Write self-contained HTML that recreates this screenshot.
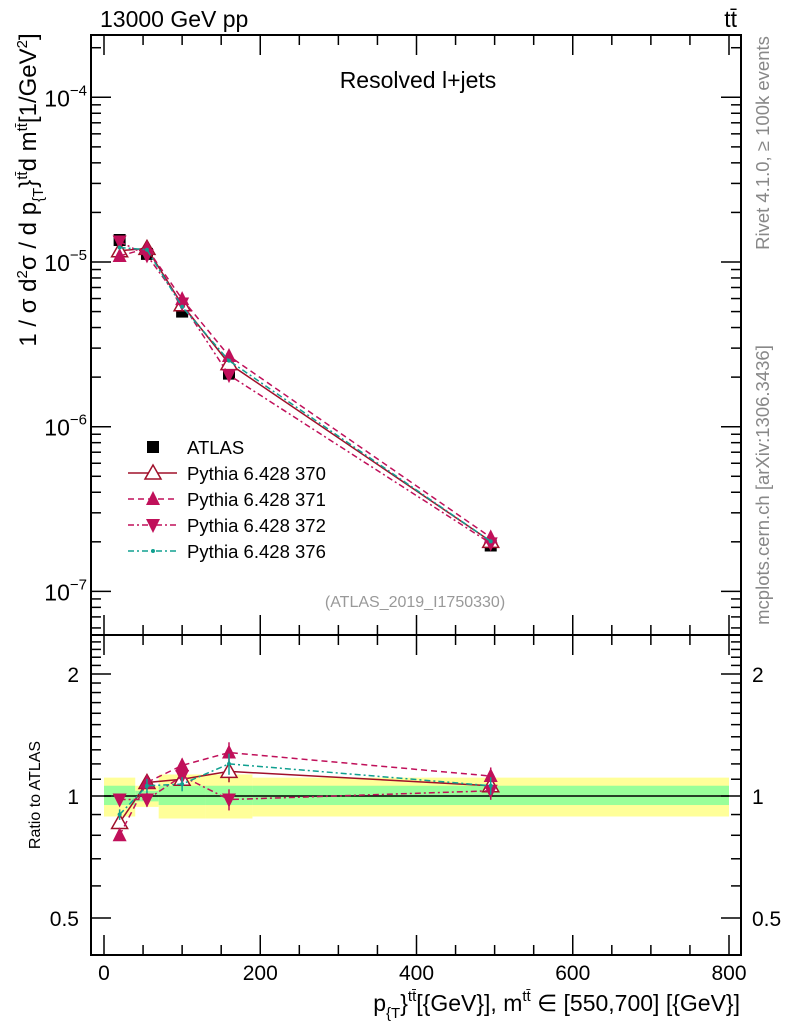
<!DOCTYPE html>
<html><head><meta charset="utf-8"><style>
html,body{margin:0;padding:0;background:#fff;}
svg{display:block;font-family:"Liberation Sans",sans-serif;}
</style></head><body>
<svg id="c" width="786" height="1024" viewBox="0 0 786 1024" xmlns="http://www.w3.org/2000/svg">
<g id="bands"></g>
<g id="axes"></g>
<g id="series"></g>
<text x="100" y="27" font-size="23">13000 GeV pp</text>
<text x="737" y="27" font-size="23" text-anchor="end">tt̄</text>
<text x="418" y="88" font-size="23" text-anchor="middle">Resolved l+jets</text>
<text x="415" y="607" font-size="16" fill="#999" text-anchor="middle">(ATLAS_2019_I1750330)</text>
<text transform="translate(769,143) rotate(-90)" font-size="18.5" fill="#888" text-anchor="middle">Rivet 4.1.0, ≥ 100k events</text>
<text transform="translate(769,485) rotate(-90)" font-size="18.5" fill="#888" text-anchor="middle">mcplots.cern.ch [arXiv:1306.3436]</text>
<text transform="translate(36,190) rotate(-90)" font-size="24" text-anchor="middle">1 / σ d<tspan font-size="15" dy="-9">2</tspan><tspan dy="9">σ / d p</tspan><tspan font-size="15" dy="7">{T</tspan><tspan dy="-7">}</tspan><tspan font-size="15" dy="-9">tt̄</tspan><tspan dy="9">d m</tspan><tspan font-size="15" dy="-9">tt̄</tspan><tspan dy="9">[1/GeV</tspan><tspan font-size="15" dy="-9">2</tspan><tspan dy="9">]</tspan></text>
<text transform="translate(40,795) rotate(-90)" font-size="16" text-anchor="middle">Ratio to ATLAS</text>
<text x="740" y="1011" font-size="23" text-anchor="end">p<tspan font-size="15" dy="7">{T</tspan><tspan dy="-7">}</tspan><tspan font-size="15" dy="-10">tt̄</tspan><tspan dy="10">[{GeV}], m</tspan><tspan font-size="15" dy="-10">tt̄</tspan><tspan dy="10"> ∈ [550,700] [{GeV}]</tspan></text>
<g id="legend"></g>
</svg>
<script>
const xs = [20, 55, 100, 160, 495];
const binLo = [0, 40, 70, 130, 190];
const binHi = [40, 70, 130, 190, 800];
const atlas = [1.36e-5, 1.12e-5, 5.0e-6, 2.1e-6, 1.9e-7];
const yellowLo = [0.89, 0.94, 0.88, 0.88, 0.89];
const yellowHi = [1.11, 1.06, 1.13, 1.13, 1.11];
const greenLo = [0.95, 0.97, 0.95, 0.95, 0.95];
const greenHi = [1.06, 1.03, 1.06, 1.06, 1.06];
const r370 = [0.86, 1.08, 1.10, 1.15, 1.06];
const r371 = [0.80, 1.08, 1.19, 1.28, 1.12];
const r372 = [0.98, 0.98, 1.12, 0.98, 1.03];
const r376 = [0.90, 1.06, 1.07, 1.20, 1.06];
const ratioErr = [0.03, 0.04, 0.04, 0.06, 0.05];
const yTicks = ["10","10","10","10"];
const yExp = [-4,-5,-6,-7];
const xTicks = [0, 200, 400, 600, 800];
const rTicks = [0.5, 1, 2];

const NS="http://www.w3.org/2000/svg";
const L=91,R=741,T=35,M=635,B=955;
const X=v=>104+v*(729-104)/800;
const Y=v=>262-(Math.log10(v)+5)*164.7;
const RY=v=>796-Math.log2(v)*122;
function mk(tag,attrs,parent){const e=document.createElementNS(NS,tag);for(const k in attrs)e.setAttribute(k,attrs[k]);parent.appendChild(e);return e;}
const axes=document.getElementById('axes'),bands=document.getElementById('bands'),ser=document.getElementById('series'),leg=document.getElementById('legend');

for(let i=0;i<binLo.length;i++){
  const y=mk('rect',{x:X(binLo[i]),y:RY(yellowHi[i]),width:X(binHi[i])-X(binLo[i]),height:RY(yellowLo[i])-RY(yellowHi[i]),fill:'#ffff99'},bands);
  
  
  const g=mk('rect',{x:X(binLo[i]),y:RY(greenHi[i]),width:X(binHi[i])-X(binLo[i]),height:RY(greenLo[i])-RY(greenHi[i]),fill:'#99ff99'},bands);
  
  
}
mk('line',{x1:X(0),x2:X(800),y1:RY(1),y2:RY(1),stroke:'#000','stroke-width':1.5},bands);

mk('rect',{x:L,y:T,width:R-L,height:M-T,fill:'none',stroke:'#000','stroke-width':2},axes);
mk('rect',{x:L,y:M,width:R-L,height:B-M,fill:'none',stroke:'#000','stroke-width':2},axes);
for(let d=-8;d<=-4;d++){for(let m=1;m<10;m++){const v=m*Math.pow(10,d);const y=Y(v);if(y<T||y>M)continue;const len=m==1?20:10;
 mk('line',{x1:L,x2:L+len,y1:y,y2:y,stroke:'#000','stroke-width':1.5},axes);mk('line',{x1:R,x2:R-len,y1:y,y2:y,stroke:'#000','stroke-width':1.5},axes);}}
yExp.forEach((e,i)=>{const t=mk('text',{x:87,y:Y(Math.pow(10,e))+9,'font-size':23,'text-anchor':'end'},axes);t.textContent=yTicks[i];const s=mk('tspan',{'font-size':15,dy:-11},t);s.textContent='−'+(-e);
 
 });
for(let v=0.4;v<=2.5;v+=0.1){const y=RY(v);if(y<M||y>B)continue;const major=[0.5,1,2].some(a=>Math.abs(a-v)<1e-6);const len=major?20:10;
 mk('line',{x1:L,x2:L+len,y1:y,y2:y,stroke:'#000','stroke-width':1.5},axes);mk('line',{x1:R,x2:R-len,y1:y,y2:y,stroke:'#000','stroke-width':1.5},axes);}
rTicks.forEach(v=>{const t1=mk('text',{x:79,y:RY(v)+8,'font-size':21,'text-anchor':'end'},axes);t1.textContent=String(v);
 
 
 const t2=mk('text',{x:752,y:RY(v)+8,'font-size':21},axes);t2.textContent=String(v);
 
 });
for(let v=0;v<=800;v+=50){const x=X(v);const len=v%200==0?20:10;
 [[T,1],[M,1],[M,-1],[B,-1]].forEach(([y0,s])=>mk('line',{x1:x,x2:x,y1:y0,y2:y0+s*len,stroke:'#000','stroke-width':1.5},axes));}
xTicks.forEach(v=>{const t=mk('text',{x:X(v),y:980,'font-size':21,'text-anchor':'middle'},axes);t.textContent=String(v);
 
 });

const sdefs=[
 {r:r370,c:'#a0102a',dash:'',mk:'tri-open',name:'pythia-370'},
 {r:r371,c:'#c0105a',dash:'6,4',mk:'tri',name:'pythia-371'},
 {r:r372,c:'#c0105a',dash:'6,3,2,3',mk:'tri-down',name:'pythia-372'},
 {r:r376,c:'#10a090',dash:'6,3,2,3',mk:'dot',name:'pythia-376'}];
function marker(type,x,y,c,g){
 if(type=='tri-open')return mk('path',{d:`M${x},${y-8}L${x+8},${y+6}L${x-8},${y+6}Z`,fill:'#fff',stroke:c,'stroke-width':1.5},g);
 if(type=='tri')return mk('path',{d:`M${x},${y-8}L${x+7},${y+6}L${x-7},${y+6}Z`,fill:c},g);
 if(type=='tri-down')return mk('path',{d:`M${x},${y+8}L${x+7},${y-6}L${x-7},${y-6}Z`,fill:c},g);
 if(type=='sq')return mk('rect',{x:x-6,y:y-6,width:12,height:12,fill:c},g);
 return mk('circle',{cx:x,cy:y,r:2,fill:c},g);}
atlas.forEach((v,i)=>{const m=marker('sq',X(xs[i]),Y(v),'#000',ser);
 
 });
sdefs.forEach(s=>{
 const g=mk('g',{},ser);
 
 
 const main=xs.map((x,i)=>X(x)+','+Y(atlas[i]*s.r[i])).join(' ');
 const rat=xs.map((x,i)=>X(x)+','+RY(s.r[i])).join(' ');
 mk('polyline',{points:main,fill:'none',stroke:s.c,'stroke-width':1.5,'stroke-dasharray':s.dash},g);
 mk('polyline',{points:rat,fill:'none',stroke:s.c,'stroke-width':1.5,'stroke-dasharray':s.dash},g);
 xs.forEach((x,i)=>{
  mk('line',{x1:X(x),x2:X(x),y1:RY(s.r[i]*(1+ratioErr[i])),y2:RY(s.r[i]*(1-ratioErr[i])),stroke:s.c,'stroke-width':1.5},g);
  const a=marker(s.mk,X(x),Y(atlas[i]*s.r[i]),s.c,g);
  
  
  const b=marker(s.mk,X(x),RY(s.r[i]),s.c,g);
  
  
 });
});
const legItems=[['ATLAS',null],['Pythia 6.428 370',0],['Pythia 6.428 371',1],['Pythia 6.428 372',2],['Pythia 6.428 376',3]];
legItems.forEach((it,k)=>{const y=447+k*26;const g=mk('g',{},leg);
 
 
 if(it[1]===null){marker('sq',153,y,'#000',g);}else{const s=sdefs[it[1]];
  mk('line',{x1:128,x2:177,y1:y,y2:y,stroke:s.c,'stroke-width':1.5,'stroke-dasharray':s.dash},g);marker(s.mk,153,y,s.c,g);}
 const t=mk('text',{x:187,y:y+7,'font-size':18.5},g);t.textContent=it[0];});
</script>
</body></html>
